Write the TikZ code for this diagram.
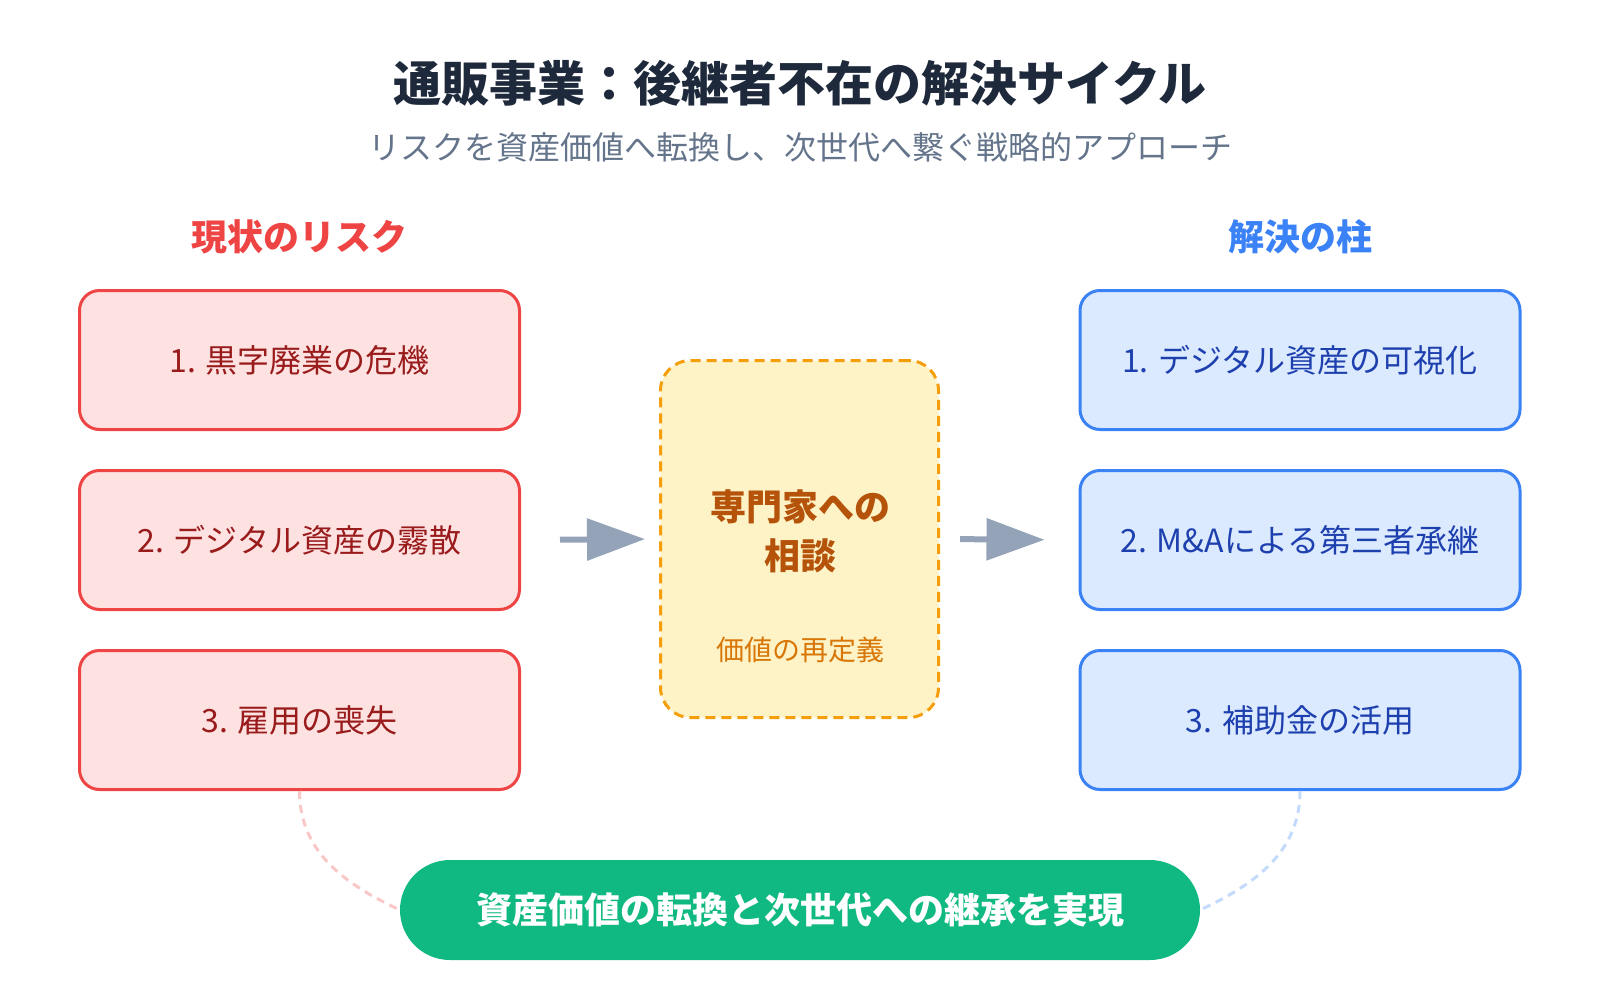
\documentclass[tikz,border=0pt]{standalone}
\usepackage{fontspec}
\setmainfont{Noto Sans CJK JP}
\usetikzlibrary{arrows.meta}
\definecolor{titlec}{HTML}{1E293B}
\definecolor{subc}{HTML}{64748B}
\definecolor{redm}{HTML}{EF4444}
\definecolor{redf}{HTML}{FEE2E2}
\definecolor{redt}{HTML}{991B1B}
\definecolor{bluem}{HTML}{3B82F6}
\definecolor{bluef}{HTML}{DBEAFE}
\definecolor{bluet}{HTML}{1E40AF}
\definecolor{ambm}{HTML}{F59E0B}
\definecolor{ambf}{HTML}{FEF3C7}
\definecolor{ambt}{HTML}{B45309}
\definecolor{ambs}{HTML}{D97706}
\definecolor{arrc}{HTML}{94A3B8}
\definecolor{greenc}{HTML}{10B981}
\definecolor{curvered}{HTML}{FAC7C7}
\definecolor{curveblue}{HTML}{C4DAFC}
\tikzset{
  riskbox/.style={draw=redm, fill=redf, text=redt, line width=3pt, rounded corners=20pt,
    minimum width=440pt, minimum height=139pt, font=\fontsize{32}{38}\selectfont},
  solbox/.style={draw=bluem, fill=bluef, text=bluet, line width=3pt, rounded corners=20pt,
    minimum width=440pt, minimum height=139pt, font=\fontsize{32}{38}\selectfont},
  centerbox/.style={draw=ambm, fill=ambf, line width=3pt, dash pattern=on 10pt off 6pt,
    rounded corners=30pt, minimum width=278pt, minimum height=357pt},
  heading/.style={font=\bfseries\fontsize{36}{42}\selectfont},
  flowarrow/.style={draw=arrc, line width=6pt, -{Triangle[length=58pt,width=41pt]}},
  linkcurve/.style={line width=3pt, dash pattern=on 8pt off 6pt},
}
\begin{document}
\begin{tikzpicture}[x=1pt,y=1pt]
\useasboundingbox (0,0) rectangle (1600,-1000);
\node[text=titlec, font=\bfseries\fontsize{48}{56}\selectfont] (title) at (800,-83) {通販事業：後継者不在の解決サイクル};
\node[text=subc, font=\fontsize{32}{38}\selectfont] (sub) at (800,-147) {リスクを資産価値へ転換し、次世代へ繋ぐ戦略的アプローチ};

\node[heading, text=redm] (hl) at (299.5,-237) {現状のリスク};
\node[heading, text=bluem] (hr) at (1300,-237) {解決の柱};

\node[riskbox] (l1) at (299.5,-360) {1. 黒字廃業の危機};
\node[riskbox] (l2) at (299.5,-540) {2. デジタル資産の霧散};
\node[riskbox] (l3) at (299.5,-720) {3. 雇用の喪失};

\node[solbox] (r1) at (1300,-360) {1. デジタル資産の可視化};
\node[solbox] (r2) at (1300,-540) {2. M\&Aによる第三者承継};
\node[solbox] (r3) at (1300,-720) {3. 補助金の活用};

\node[centerbox] (c) at (799.5,-539) {};
\node[text=ambt, font=\bfseries\fontsize{36}{49}\selectfont, align=center] (ct) at (800,-531) {専門家への\\相談};
\node[text=ambs, font=\fontsize{28}{34}\selectfont] (cs) at (800,-650) {価値の再定義};

\draw[linkcurve, draw=curvered] (l3.south) to[out=-90,in=155] (800-400,-910);
\draw[linkcurve, draw=curveblue] (r3.south) to[out=-90,in=25] (800+400,-910);

\node[fill=greenc, text=white, rounded corners=50pt, minimum width=800pt, minimum height=100pt,
  font=\bfseries\fontsize{36}{42}\selectfont] (g) at (800,-910) {資産価値の転換と次世代への継承を実現};

\draw[flowarrow, shorten <=39pt, shorten >=14pt] (l2.east) -- (c.west);
\draw[flowarrow, shorten <=20pt, shorten >=34pt] (c.east) -- (r2.west);
\end{tikzpicture}
\end{document}
